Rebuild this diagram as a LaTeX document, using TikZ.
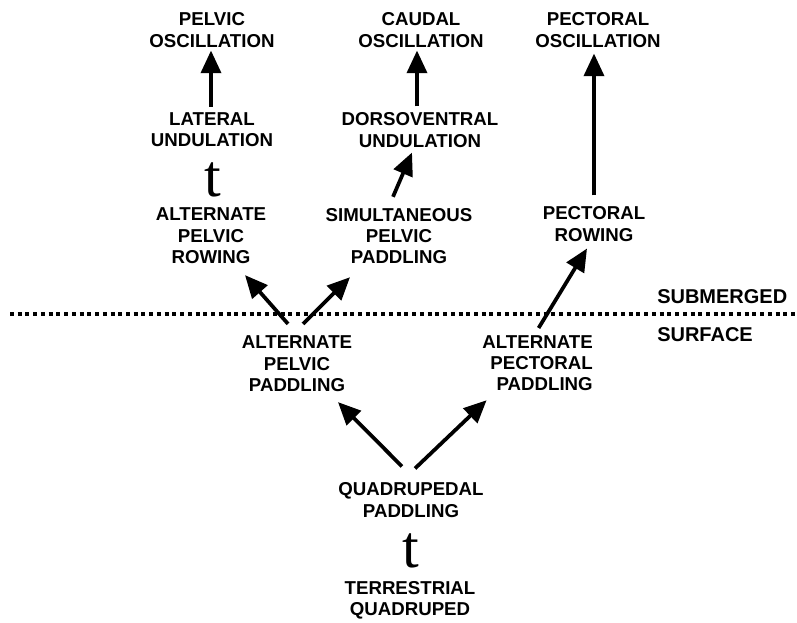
\documentclass[tikz,border=0pt]{standalone}
\usepackage{fontspec}
\usepackage{tikz}
\usetikzlibrary{arrows.meta, positioning}
\newfontfamily\labelfont{Liberation Sans}
\newfontfamily\tfont{Liberation Serif}

\begin{document}
\begin{tikzpicture}[x=0.75pt,y=-0.75pt]
        \useasboundingbox (0,0) rectangle (797,623);
        \begin{scope}[every node/.style={font=\labelfont\bfseries\fontsize{14}{16}\selectfont,align=center,inner sep=0pt}]
          \node (po) at (212,30) {PELVIC\\OSCILLATION};
          \node (co) at (421,30) {CAUDAL\\OSCILLATION};
          \node (pco) at (598,30) {PECTORAL\\OSCILLATION};
          \node (lu) at (212,130) {LATERAL\\UNDULATION};
          \node (du) at (420,130) {DORSOVENTRAL\\UNDULATION};
          \node (apr) at (211,236) {ALTERNATE\\PELVIC\\ROWING};
          \node (spp) at (399,236) {SIMULTANEOUS\\PELVIC\\PADDLING};
          \node (pr) at (594,224) {PECTORAL\\ROWING};
          \node (app) at (297,364) {ALTERNATE\\PELVIC\\PADDLING};
          \node[anchor=north east,align=right] (apc) at (593,335) {ALTERNATE\\PECTORAL\\PADDLING};
          \node (qp) at (411,500) {QUADRUPEDAL\\PADDLING};
          \node (tq) at (410,600) {TERRESTRIAL\\QUADRUPED};
          \node[anchor=west,font=\labelfont\bfseries\fontsize{15}{17}\selectfont] (sub) at (657,297) {SUBMERGED};
          \node[anchor=west,font=\labelfont\bfseries\fontsize{15}{17}\selectfont] (sur) at (657,335) {SURFACE};
        \end{scope}
        \begin{scope}[every node/.style={font=\tfont\fontsize{45}{45}\selectfont,inner sep=0pt}]
          \node (t1) at (213,180) {t};
          \node (t2) at (411,551) {t};
        \end{scope}
        % water line
        \draw[line width=3pt,dash pattern=on 3pt off 2.8pt] (10,314.5) -- (797,314.5);
        \begin{scope}[every edge/.style={draw=black,line width=2.8pt,-{Triangle[length=17pt,width=15pt]}}]
          \path ([shift={(-1,-6)}]lu.north) edge ([shift={(-1,3)}]po.south);
          \path ([shift={(-3,-6)}]du.north) edge ([shift={(-4,3)}]co.south);
          \path ([shift={(0,-11)}]pr.north) edge ([shift={(-4,6)}]pco.south);
          \path ([shift={(-6,-11)}]spp.north) edge ([shift={(-8,5)}]du.south);
          \path ([shift={(-9,-12)}]app.north) edge ([shift={(34,11)}]apr.south);
          \path ([shift={(6,-12)}]app.north) edge ([shift={(-49,13)}]spp.south);
          \path ([shift={(1,-7)}]apc.north) edge ([shift={(-7,7)}]pr.south);
          \path ([shift={(-9,-16)}]qp.north) edge ([shift={(41,10)}]app.south);
          \path ([shift={(4,-14)}]qp.north) edge ([shift={(-51,9)}]apc.south);
        \end{scope}
      \end{tikzpicture}
\end{document}
